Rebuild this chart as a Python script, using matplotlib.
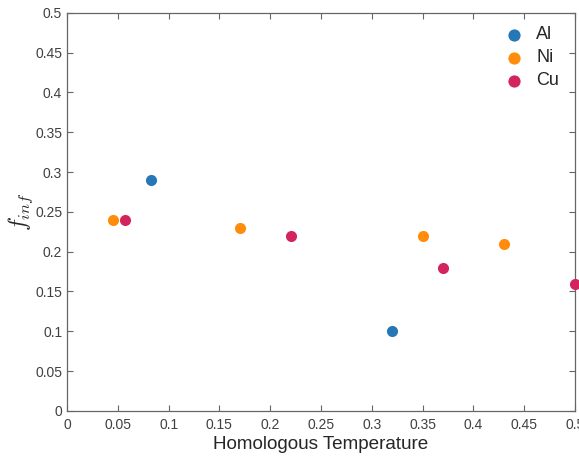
import matplotlib
matplotlib.use("Agg")
import matplotlib.pyplot as plt

plt.rcParams['font.family'] = ['Liberation Sans', 'DejaVu Sans']
plt.rcParams['mathtext.fontset'] = 'cm'

# Homologous temperature and f_inf per metal
al_t = [0.083, 0.32]
al_f = [0.29, 0.10]
ni_t = [0.045, 0.17, 0.35, 0.43]
ni_f = [0.24, 0.23, 0.22, 0.21]
cu_t = [0.057, 0.22, 0.37, 0.50]
cu_f = [0.24, 0.22, 0.18, 0.16]

ticks = [0, 0.05, 0.1, 0.15, 0.2, 0.25, 0.3, 0.35, 0.4, 0.45, 0.5]
tick_labels = ['0', '0.05', '0.1', '0.15', '0.2', '0.25', '0.3', '0.35', '0.4', '0.45', '0.5']

fig = plt.figure(figsize=(5.79, 4.57), dpi=100)
ax = fig.add_axes([0.1157, 0.1007, 0.8774, 0.8715])

ms = 64
ax.scatter(al_t, al_f, s=ms, color='#2577B5', label='Al', clip_on=False, zorder=3, linewidths=0)
ax.scatter(ni_t, ni_f, s=ms, color='#FF8C0A', label='Ni', clip_on=False, zorder=3, linewidths=0)
ax.scatter(cu_t, cu_f, s=ms, color='#D4245E', label='Cu', clip_on=False, zorder=3, linewidths=0)

ax.set_xlim(0, 0.5)
ax.set_ylim(0, 0.5)
ax.set_xticks(ticks)
ax.set_xticklabels(tick_labels)
ax.set_yticks(ticks)
ax.set_yticklabels(tick_labels)

for s in ax.spines.values():
    s.set_color('#666666')
    s.set_linewidth(0.9)
ax.tick_params(direction='in', length=4.5, width=0.8, color='#666666',
               labelsize=10, labelcolor='#404040', top=True, right=True, pad=5)
ax.tick_params(axis='y', pad=3.5)

ax.set_xlabel('Homologous Temperature', fontsize=13.6, color='#262626', labelpad=3)
ax.set_ylabel(r'$f_{inf}$', fontsize=17, color='#262626', labelpad=0)

leg = ax.legend(loc='upper right', frameon=False, fontsize=13, handletextpad=0.6,
                borderaxespad=0.4, labelspacing=0.33, handlelength=1.2,
                bbox_to_anchor=(0.997, 1.002), markerscale=1.1)
for t in leg.get_texts():
    t.set_color('#262626')

fig.savefig('out.png', dpi=100)
